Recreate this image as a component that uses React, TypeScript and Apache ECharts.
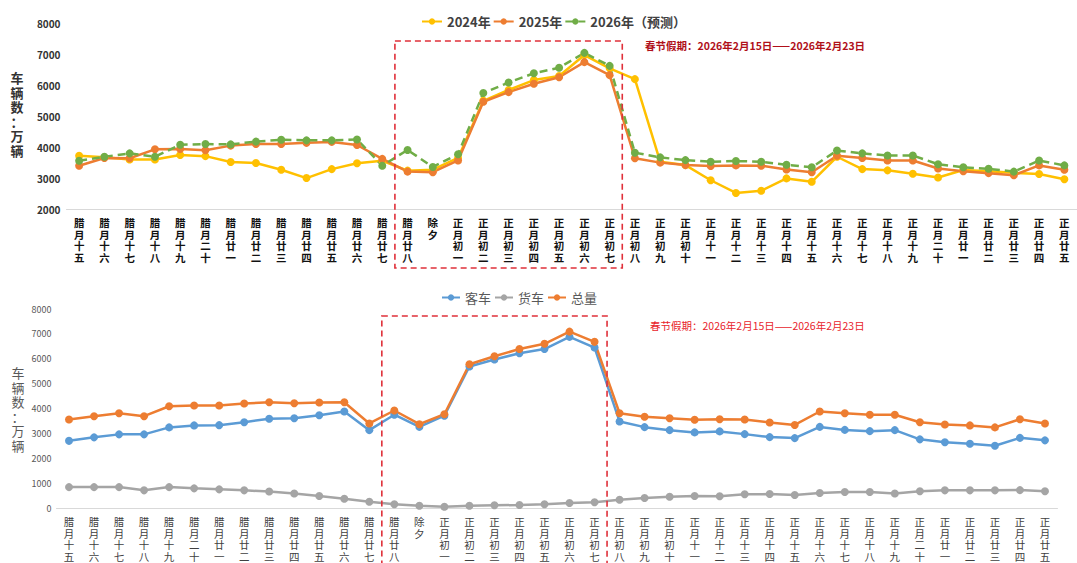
import React, { useEffect, useRef } from 'react';
import * as echarts from 'echarts';

const categories = ['腊月十五','腊月十六','腊月十七','腊月十八','腊月十九','腊月二十','腊月廿一','腊月廿二','腊月廿三','腊月廿四','腊月廿五','腊月廿六','腊月廿七','腊月廿八','除夕','正月初一','正月初二','正月初三','正月初四','正月初五','正月初六','正月初七','正月初八','正月初九','正月初十','正月十一','正月十二','正月十三','正月十四','正月十五','正月十六','正月十七','正月十八','正月十九','正月二十','正月廿一','正月廿二','正月廿三','正月廿四','正月廿五'];

const topLegend = ['2024年', '2025年', '2026年（预测）'];
const y2024 = [3720,3670,3600,3600,3745,3710,3520,3490,3270,3000,3290,3480,3560,3240,3270,3650,5500,5850,6170,6300,6980,6550,6200,3530,3420,2930,2520,2590,2990,2880,3690,3290,3250,3140,3020,3260,3220,3170,3130,2960];
const y2025 = [3400,3650,3640,3930,3940,3900,4050,4100,4100,4140,4170,4070,3620,3210,3190,3570,5470,5780,6050,6260,6750,6330,3640,3500,3420,3390,3410,3400,3280,3190,3720,3650,3570,3570,3310,3220,3160,3090,3410,3270];
const y2026 = [3560,3690,3800,3690,4080,4100,4090,4180,4240,4220,4220,4250,3400,3910,3360,3770,5750,6090,6390,6570,7050,6630,3820,3670,3580,3530,3550,3530,3430,3350,3890,3800,3730,3730,3450,3350,3300,3210,3570,3410];

const bottomLegend = ['客车', '货车', '总量'];
const passenger = [2700,2840,2960,2960,3240,3320,3330,3450,3590,3610,3730,3880,3130,3750,3260,3710,5690,5970,6220,6390,6880,6450,3480,3250,3130,3040,3080,2970,2850,2810,3260,3140,3090,3130,2760,2640,2580,2500,2820,2720];
const freight = [840,840,840,710,840,790,750,710,660,580,480,370,250,150,90,50,90,110,120,150,200,230,330,400,450,480,470,550,560,520,600,640,640,580,670,710,710,710,720,670];
const total = [3560,3690,3810,3690,4090,4120,4120,4200,4250,4210,4240,4250,3400,3920,3370,3770,5780,6100,6390,6600,7090,6680,3810,3670,3610,3550,3570,3560,3440,3340,3880,3810,3750,3750,3450,3360,3320,3240,3570,3400];

const yAxisName = '车辆数：万辆';
const holidayNote = '春节假期：2026年2月15日——2026年2月23日';
const holidayStart = '腊月廿七';
const holidayEnd = '正月初七';

const FONT = '"Noto Sans CJK SC", "Noto Sans", sans-serif';

export default function App() {
  const ref = useRef<HTMLDivElement>(null);
  useEffect(() => {
    const chart = echarts.init(ref.current!, null, { renderer: 'svg' });
    const vert = (v: string) => v.split('').join('\n');
    const lineSeries = (name: string, data: number[], color: string, xi: number, dashed = false) => ({
      name,
      type: 'line',
      xAxisIndex: xi,
      yAxisIndex: xi,
      data,
      symbol: 'circle',
      symbolSize: 8,
      lineStyle: { width: 2.5, color, type: dashed ? [8, 5] : 'solid' },
      itemStyle: { color },
      emphasis: { disabled: true },
    });
    chart.setOption({
      animation: false,
      backgroundColor: '#fff',
      textStyle: { fontFamily: FONT },
      legend: [
        {
          data: topLegend,
          left: 416,
          top: 10,
          itemWidth: 20,
          itemHeight: 8,
          itemGap: 2,
          textStyle: { fontSize: 13, fontWeight: 'bold', color: '#404040', fontFamily: FONT },
        },
        {
          data: bottomLegend,
          left: 436,
          top: 286,
          itemWidth: 18,
          itemHeight: 8,
          itemGap: 3,
          textStyle: { fontSize: 13, color: '#595959', fontFamily: FONT },
        },
      ],
      grid: [
        { left: 66.5, right: -7, top: 23.5, height: 185.5 },
        { left: 56.5, right: 19.5, top: 309, bottom: 55 },
      ],
      xAxis: [0, 1].map((i) => ({
        type: 'category',
        gridIndex: i,
        data: categories,
        boundaryGap: true,
        axisLine: { lineStyle: { color: '#D9D9D9', width: 1 } },
        axisTick: { show: false },
        axisLabel: {
          interval: 0,
          formatter: vert,
          fontSize: 10.5,
          lineHeight: 11.5,
          margin: 8,
          fontWeight: i === 0 ? 'bold' : 'normal',
          color: i === 0 ? '#111' : '#404040',
          fontFamily: FONT,
        },
      })),
      yAxis: [
        {
          type: 'value',
          gridIndex: 0,
          min: 2000,
          max: 8000,
          interval: 1000,
          axisLine: { show: false },
          axisTick: { show: false },
          splitLine: { show: false },
          axisLabel: {
            fontSize: 10,
            fontWeight: 'bold',
            color: '#333',
            margin: 6,
            fontFamily: FONT,
            formatter: (v: number) => String(v),
          },
        },
        {
          type: 'value',
          gridIndex: 1,
          min: 0,
          max: 8000,
          interval: 1000,
          axisLine: { show: false },
          axisTick: { show: false },
          splitLine: { show: false },
          axisLabel: {
            fontSize: 9,
            color: '#595959',
            margin: 5,
            fontFamily: FONT,
            formatter: (v: number) => String(v),
          },
        },
      ],
      series: [
        lineSeries(topLegend[0], y2024, '#FFC000', 0),
        lineSeries(topLegend[1], y2025, '#ED7D31', 0),
        lineSeries(topLegend[2], y2026, '#70AD47', 0, true),
        lineSeries(bottomLegend[0], passenger, '#5B9BD5', 1),
        lineSeries(bottomLegend[1], freight, '#A5A5A5', 1),
        lineSeries(bottomLegend[2], total, '#ED7D31', 1),
      ],
    });

    const iS = categories.indexOf(holidayStart);
    const iE = categories.indexOf(holidayEnd);
    const px = (axis: number, i: number) => chart.convertToPixel({ xAxisIndex: axis }, categories[i]) as number;
    const edge = (axis: number, a: number, b: number) => (px(axis, a) + px(axis, b)) / 2;
    const t0 = edge(0, iS, iS + 1);
    const t1 = edge(0, iE, iE + 1);
    const b0 = edge(1, iS, iS + 1);
    const b1 = edge(1, iE, iE + 1);

    chart.setOption({
      graphic: {
        elements: [
          {
            type: 'rect',
            shape: { x: t0, y: 41, width: t1 - t0, height: 227 },
            style: { fill: 'none', stroke: '#E0303A', lineWidth: 1.6, lineDash: [6, 4] },
            silent: true,
            z: 100,
          },
          {
            type: 'rect',
            shape: { x: b0, y: 316, width: b1 - b0, height: 260 },
            style: { fill: 'none', stroke: '#E0303A', lineWidth: 1.6, lineDash: [6, 4] },
            silent: true,
            z: 100,
          },
          {
            type: 'text',
            x: 17,
            y: 114,
            style: {
              text: vert(yAxisName),
              fill: '#333',
              font: `bold 13px ${FONT}`,
              lineHeight: 14.5,
              textAlign: 'center',
              textVerticalAlign: 'middle',
            },
          },
          {
            type: 'text',
            x: 18,
            y: 409,
            style: {
              text: vert(yAxisName),
              fill: '#595959',
              font: `13px ${FONT}`,
              lineHeight: 14.5,
              textAlign: 'center',
              textVerticalAlign: 'middle',
            },
          },
          {
            type: 'text',
            x: 645,
            y: 45,
            style: {
              text: holidayNote,
              fill: '#B0101A',
              font: `bold 10.5px ${FONT}`,
              textVerticalAlign: 'middle',
            },
          },
          {
            type: 'text',
            x: 650,
            y: 325,
            style: {
              text: holidayNote,
              fill: '#E8242C',
              font: `10.5px ${FONT}`,
              textVerticalAlign: 'middle',
            },
          },
        ],
      },
    });

    return () => chart.dispose();
  }, []);
  return (
    <div
      ref={ref}
      style={{ position: 'fixed', left: 0, top: 0, width: 1077, height: 563, background: '#fff' }}
    />
  );
}
